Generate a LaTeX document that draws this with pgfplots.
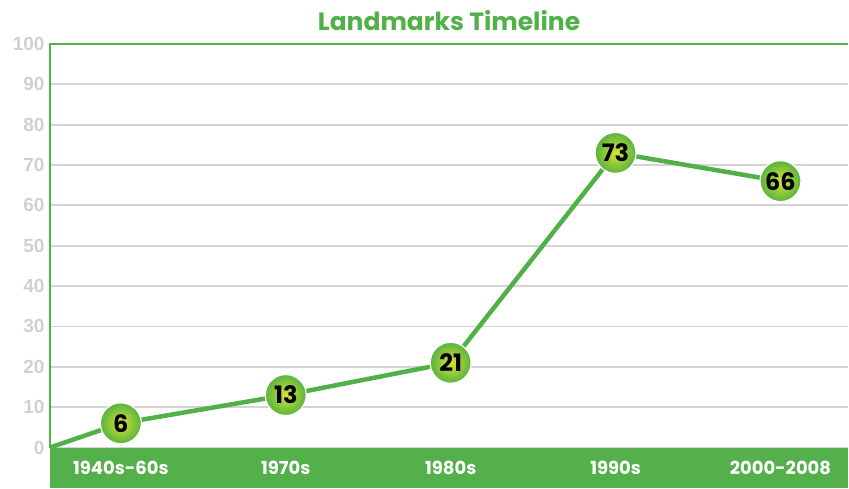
\documentclass[border=0pt]{standalone}
\usepackage{pgfplots}
\pgfplotsset{compat=1.18}
\usepackage{fontspec}
\setmainfont{Poppins}
\newfontfamily\tickfont{Liberation Sans}
\definecolor{lgreen}{RGB}{82,176,72}
\definecolor{bandgreen}{RGB}{83,176,74}
\definecolor{ballout}{RGB}{88,180,60}
\definecolor{ballin}{RGB}{216,226,58}
\definecolor{gridgray}{RGB}{212,212,212}
\definecolor{tickgray}{RGB}{208,208,208}
\begin{document}
\begin{tikzpicture}
% green band under the axis (axis south west is at the origin)
\fill[bandgreen] (0pt,-41pt) rectangle (799pt,0pt);
\begin{axis}[
  scale only axis,
  width=799pt, height=404pt,
  xmin=-0.43, xmax=4.41,
  ymin=0, ymax=100,
  ytick={0,10,...,100},
  xtick={0,1,2,3,4},
  xticklabels={1940s-60s,1970s,1980s,1990s,2000-2008},
  major tick length=0pt,
  axis line style={draw=none},
  ymajorgrids,
  grid style={gridgray, line width=1.8pt},
  clip=false,
  /pgf/number format/assume math mode=true,
  yticklabel style={font=\tickfont\bfseries\fontsize{19}{19}\selectfont, text=tickgray, xshift=-2pt},
  xticklabel style={font=\bfseries\fontsize{18}{18}\selectfont, text=white, anchor=center, yshift=-20.5pt},
  title={Landmarks Timeline},
  title style={at={(0.5,1)}, anchor=center, yshift=17pt, font=\bfseries\fontsize{25}{25}\selectfont, text=lgreen},
]
\draw[lgreen, line width=1.5pt] (rel axis cs:0,0) -- (rel axis cs:0,1) -- (rel axis cs:1,1);
% start segment from the corner
\addplot[lgreen, line width=4.5pt, mark=none] coordinates {(-0.43,0) (0,6)};
\addplot[lgreen, line width=4.5pt, mark=none,
  nodes near coords={\bfseries\fontsize{24}{24}\selectfont\pgfmathprintnumber[assume math mode=true]{\pgfplotspointmeta}},
  every node near coord/.append style={anchor=center, circle, minimum size=41pt, inner sep=0pt,
     draw=white, line width=1.2pt, inner color=ballin, outer color=ballout, text=black}]
  coordinates {(0,6) (1,13) (2,21) (3,73) (4,66)};
\end{axis}
\path (-50pt,-41pt) rectangle (799pt,448pt);
\end{tikzpicture}
\end{document}
